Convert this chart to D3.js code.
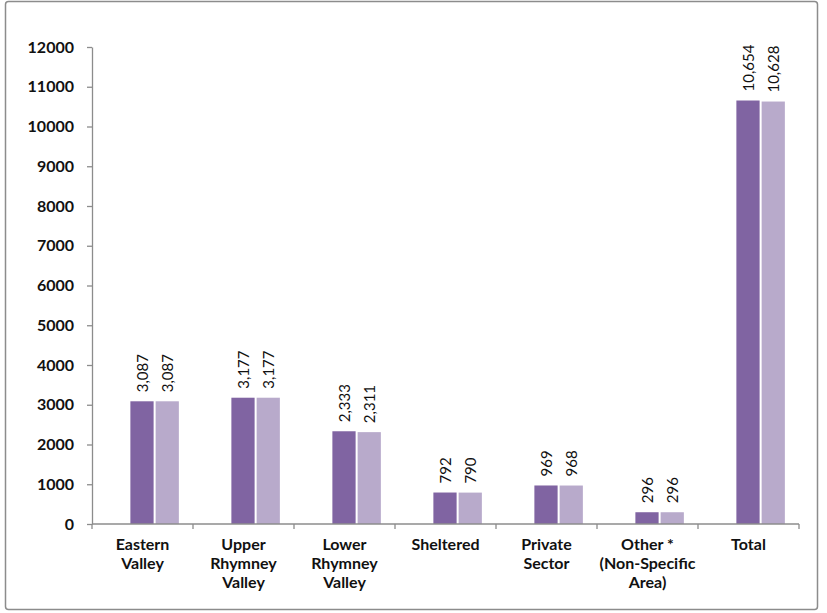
<!DOCTYPE html>
<html>
<head>
<meta charset="utf-8">
<script src="https://cdn.jsdelivr.net/npm/d3@7"></script>
<style>
  html, body { margin: 0; padding: 0; background: #fff; }
  svg { display: block; }
  text { font-family: Lato, "Open Sans", sans-serif; fill: #111; }
</style>
</head>
<body>
<svg id="chart" width="827" height="613"></svg>
<script>
// Housing stock by area, two counts per area
const categories = [
  "Eastern Valley",
  "Upper Rhymney Valley",
  "Lower Rhymney Valley",
  "Sheltered",
  "Private Sector",
  "Other * (Non-Specific Area)",
  "Total"
];
const categoryLines = [
  ["Eastern", "Valley"],
  ["Upper", "Rhymney", "Valley"],
  ["Lower", "Rhymney", "Valley"],
  ["Sheltered"],
  ["Private", "Sector"],
  ["Other *", "(Non-Specific", "Area)"],
  ["Total"]
];
const seriesNames = ["Series 1", "Series 2"];
const series1 = [3087, 3177, 2333, 792, 969, 296, 10654];
const series2 = [3087, 3177, 2311, 790, 968, 296, 10628];
const yTicks = [0, 1000, 2000, 3000, 4000, 5000, 6000, 7000, 8000, 9000, 10000, 11000, 12000];
const colors = ["#8064a2", "#b8aacb"];

const svg = d3.select("#chart");
const plot = { left: 92, right: 799, top: 47, bottom: 524 };

// outer frame
svg.append("rect")
  .attr("x", 5.5).attr("y", 1.5)
  .attr("width", 812).attr("height", 608)
  .attr("rx", 3)
  .attr("fill", "#fff")
  .attr("stroke", "#8c8c8c")
  .attr("stroke-width", 1.5);

const x = d3.scaleBand().domain(categories).range([plot.left, plot.right]).padding(0);
const bw = x.bandwidth();
const x1 = d3.scaleBand().domain(seriesNames)
  .range([0.38 * bw, 0.86 * bw]).paddingInner(0.08);
const y = d3.scaleLinear().domain([0, 12000]).range([plot.bottom, plot.top]);

// y axis
const yAxis = svg.append("g")
  .attr("transform", `translate(${plot.left},0)`)
  .call(d3.axisLeft(y).tickValues(yTicks).tickFormat(d3.format("d"))
    .tickSize(5).tickSizeOuter(0).tickPadding(13));
yAxis.select(".domain").attr("stroke", "#8c8c8c").attr("stroke-width", 1.3);
yAxis.selectAll(".tick line").attr("stroke", "#8c8c8c").attr("stroke-width", 1.3);
yAxis.selectAll(".tick text")
  .style("font-family", "Lato, sans-serif")
  .style("font-size", "16px").style("font-weight", "bold")
  .attr("fill", "#111");

// bars
const rows = categories.map((c, i) => ({ cat: c, vals: [series1[i], series2[i]] }));
const groups = svg.append("g").selectAll("g.cat")
  .data(rows).join("g")
  .attr("class", "cat")
  .attr("transform", d => `translate(${x(d.cat)},0)`);

groups.selectAll("rect")
  .data(d => d.vals.map((v, k) => ({ key: seriesNames[k], v, k })))
  .join("rect")
  .attr("x", d => x1(d.key))
  .attr("width", x1.bandwidth())
  .attr("y", d => y(d.v))
  .attr("height", d => y(0) - y(d.v))
  .attr("fill", d => colors[d.k]);

// value labels, rotated
groups.selectAll("text.val")
  .data(d => d.vals.map((v, k) => ({ key: seriesNames[k], v, k })))
  .join("text")
  .attr("class", "val")
  .attr("transform", d => `translate(${x1(d.key) + x1.bandwidth() / 2},${y(d.v) - 9}) rotate(-90)`)
  .attr("dy", "0.4em")
  .attr("text-anchor", "start")
  .style("font-size", "15px")
  .text(d => d3.format(",")(d.v));

// x axis line with boundary ticks
const xa = svg.append("g");
xa.append("line")
  .attr("x1", plot.left).attr("x2", plot.right)
  .attr("y1", y(0)).attr("y2", y(0))
  .attr("stroke", "#8c8c8c").attr("stroke-width", 1.3);
const bounds = categories.map(c => x(c)).concat([x(categories[categories.length - 1]) + bw]);
xa.selectAll("line.tk").data(bounds).join("line")
  .attr("class", "tk")
  .attr("x1", d => d).attr("x2", d => d)
  .attr("y1", y(0)).attr("y2", y(0) + 5)
  .attr("stroke", "#8c8c8c").attr("stroke-width", 1.3);

// category labels
const lab = svg.append("g").selectAll("text.cat")
  .data(categories).join("text")
  .attr("class", "cat")
  .attr("text-anchor", "middle")
  .attr("x", d => x(d) + bw / 2)
  .attr("y", y(0) + 26)
  .style("font-size", "16px").style("font-weight", "bold");
lab.selectAll("tspan")
  .data((d, i) => categoryLines[i])
  .join("tspan")
  .attr("x", function () { return d3.select(this.parentNode).attr("x"); })
  .attr("dy", (d, i) => i === 0 ? 0 : 19)
  .text(d => d);
</script>
</body>
</html>
